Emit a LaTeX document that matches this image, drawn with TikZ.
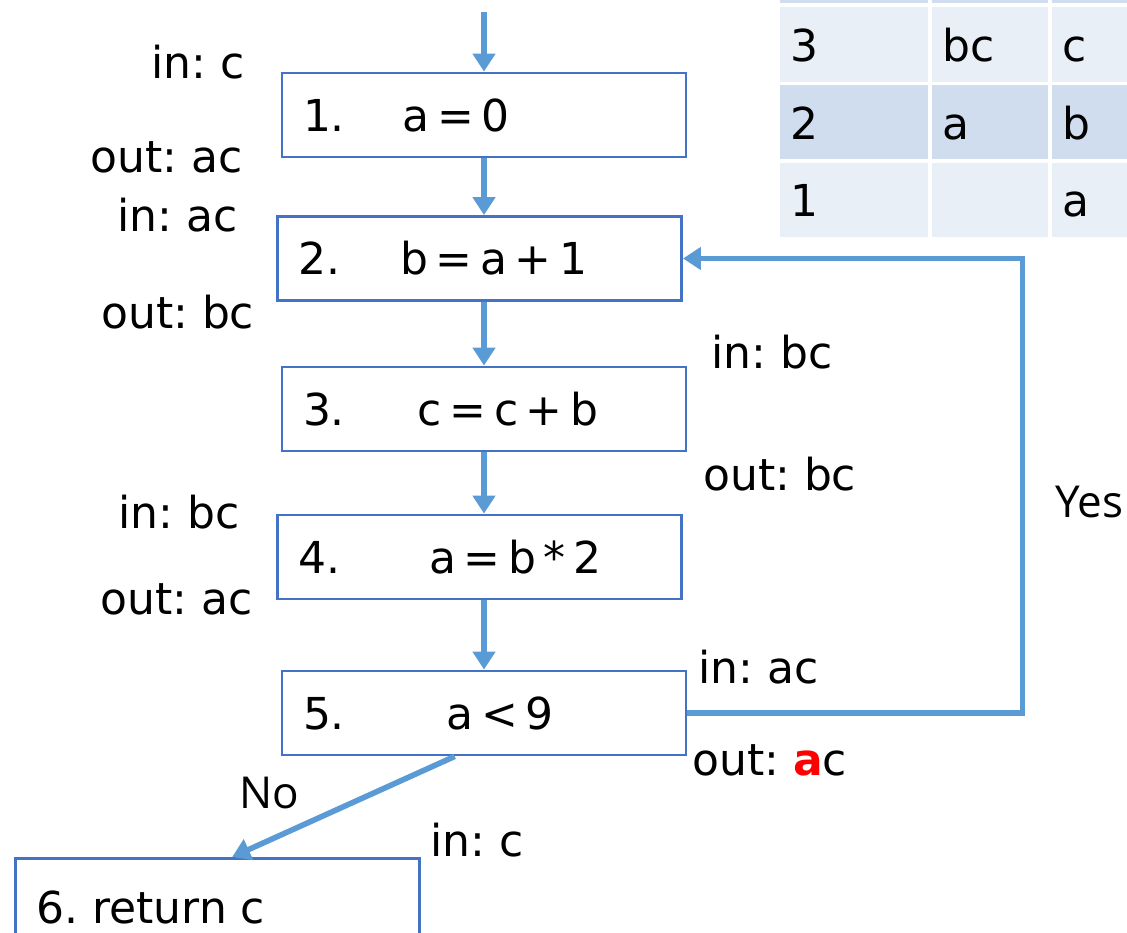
\documentclass[tikz,border=0pt]{standalone}
\usepackage{fontspec}
\setmainfont{DejaVu Sans}
\newfontfamily\yesnofont{Open Sans}
\usetikzlibrary{arrows.meta,calc}
\frenchspacing

\definecolor{boxblue}{HTML}{4472C4}
\definecolor{flowblue}{HTML}{5B9BD5}
\definecolor{rowlight}{HTML}{E9EFF7}
\definecolor{rowdark}{HTML}{CFDDEE}
\definecolor{hilite}{HTML}{FF0000}

% statement text: number in a fixed-width slot, then the expression
\newcommand\stmtline[3]{\makebox[362pt][l]{\makebox[#1][l]{#2}#3}}
\newcommand\stmtfont{\fontsize{44}{50}\selectfont\spaceskip 7.5pt\relax}
\newcommand\bigfont{\fontsize{44}{50}\selectfont}

\tikzset{
  stmt/.style={draw=boxblue, line width=2.8pt, inner xsep=21pt, inner ysep=0pt,
    minimum height=84pt, anchor=center, font=\stmtfont},
  lbl/.style={anchor=base west, inner sep=0pt, font=\bigfont},
  yesno/.style={anchor=base west, inner sep=0pt, font=\yesnofont\bigfont},
  cell/.style={anchor=base west, inner sep=0pt, font=\bigfont},
  flow/.style={draw=flowblue, line width=5.6pt,
    -{Triangle[width=22pt,length=18pt]}},
}

\begin{document}
\begin{tikzpicture}[x=1pt,y=-1pt]
\useasboundingbox (0,0) rectangle (1127,933);

% liveness table (banded rows)
\foreach \ya/\yb/\col in {-80/3.3/rowdark, 7.3/81.7/rowlight, 85/159.3/rowdark, 162.7/237.3/rowlight}{
  \foreach \xa/\xb in {780/927.7, 931.7/1048, 1051.7/1140}{
    \fill[\col] (\xa,\ya) rectangle (\xb,\yb);
  }
}
\node[cell] (t3n) at (790,62) {3};
\node[cell] (t3i) at (942,62) {bc};
\node[cell] (t3o) at (1062,62) {c};
\node[cell] (t2n) at (790,140) {2};
\node[cell] (t2i) at (942,140) {a};
\node[cell] (t2o) at (1062,140) {b};
\node[cell] (t1n) at (790,217) {1};
\node[cell] (t1o) at (1062,217) {a};

% statements
\node[stmt] (b1) at (484,115)   {\stmtline{100pt}{1.}{a = 0}};
\node[stmt] (b2) at (479.5,258.5) {\stmtline{102pt}{2.}{b = a + 1}};
\node[stmt] (b3) at (484,409)   {\stmtline{115pt}{3.}{c = c + b}};
\node[stmt] (b4) at (479.5,557) {\stmtline{131pt}{4.}{a = b * 2}};
\node[stmt] (b5) at (484,713)   {\stmtline{144pt}{5.}{a < 9}};
\node[stmt, font=\bigfont, minimum height=98pt, anchor=north] (b6) at (217.5,857) {\stmtline{0pt}{}{6. return c}};

% control flow
\coordinate (entry) at (484,12);
\draw[flow] (entry) -- (b1.north);
\draw[flow] (b1.south) -- (b2.north -| b1.south);
\draw[flow] (b2.south -| b1.south) -- (b3.north);
\draw[flow] (b3.south) -- (b4.north -| b3.south);
\draw[flow] (b4.south -| b3.south) -- (b5.north);
\draw[flow] (b5.east) -- ++(335,0) |- (b2.east);
\draw[flow] ($(b5.south west)!0.428!(b5.south east)$) -- ($(b6.north west)!0.536!(b6.north east)$);

% live-in / live-out sets
\node[lbl] (in1)  at (151,79)  {in: c};
\node[lbl] (out1) at (90,173)  {out: ac};
\node[lbl] (in2)  at (117,232) {in: ac};
\node[lbl] (out2) at (101,328) {out: bc};
\node[lbl] (in3)  at (711,368) {in: bc};
\node[lbl] (out3) at (703,490) {out: bc};
\node[lbl] (in4)  at (118,528) {in: bc};
\node[lbl] (out4) at (100,614) {out: ac};
\node[lbl] (in5)  at (698,683) {in: ac};
\node[lbl] (out5) at (692,775) {out: {\color{hilite}\bfseries a}c};
\node[lbl] (in6)  at (430,856) {in: c};

% branch labels
\node[yesno] (yes) at (1055,517) {Yes};
\node[yesno] (no)  at (239,808)  {No};
\end{tikzpicture}
\end{document}
